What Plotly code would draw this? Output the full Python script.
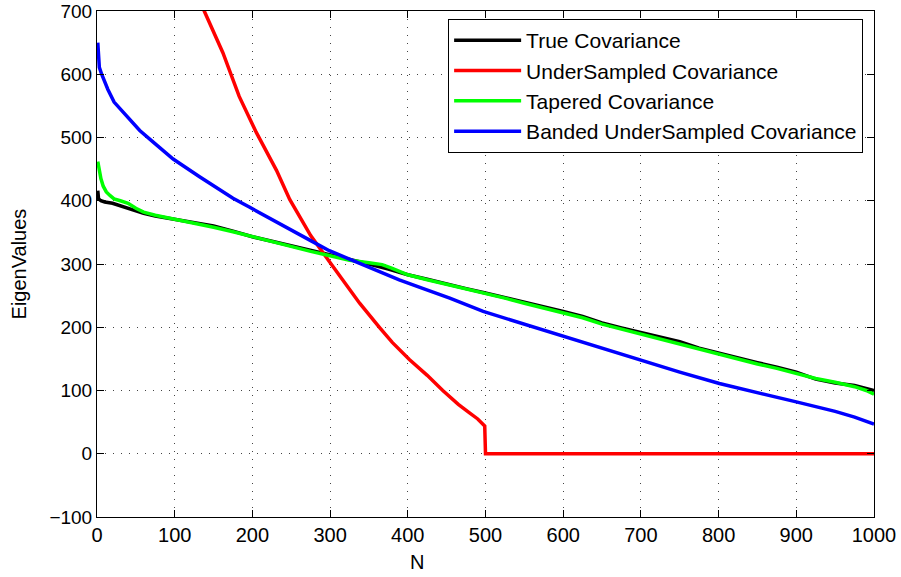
import plotly.graph_objects as go

# ---- data ----
true_x = [1, 2, 5, 10, 20, 30, 40, 50, 60, 75, 100, 125, 150, 175, 200, 225, 250, 275, 300, 325,
          350, 375, 389, 400, 425, 450, 475, 497, 525, 550, 575, 600, 625, 650, 675, 700, 725, 750,
          775, 800, 825, 850, 875, 900, 925, 950, 975, 1000]
true_y = [416, 403, 400, 398, 396, 392, 388, 384, 380, 376, 371, 366, 360, 352, 343, 336, 329, 321, 314, 307,
          300, 292, 287, 283, 276, 268, 261, 255, 247, 240, 232, 225, 217, 207, 199, 192, 184, 177,
          167, 159, 151, 144, 137, 129, 118, 112, 108, 100]

under_x = [0, 25, 50, 75, 100, 120, 138, 162, 183, 205, 231, 248, 256, 275, 299, 320, 338, 364, 380,
           402, 425, 445, 465, 479, 490, 499, 500, 1000]
under_y = [1450, 1230, 1060, 935, 830, 755, 700, 634, 565, 508, 448, 402, 385, 345, 304, 268, 238, 199, 176,
           149, 124, 100, 78, 65, 55, 44, 0, 0]

taper_x = [1, 3, 5, 8, 12, 17, 22, 30, 40, 50, 60, 75, 100, 125, 150, 175, 200, 225, 250, 275, 300,
           325, 350, 367, 380, 400, 425, 450, 475, 497, 525, 550, 575, 600, 625, 650, 675, 700, 725,
           750, 775, 800, 825, 850, 875, 900, 925, 950, 975, 990, 1000]
taper_y = [462, 445, 435, 423, 414, 408, 403, 400, 396, 388, 382, 377, 371, 365, 358, 351, 343, 336, 328, 320, 313,
           306, 302, 299, 293, 283, 275, 268, 261, 254, 246, 238, 230, 223, 215, 205, 197, 189, 182,
           174, 165, 157, 149, 142, 135, 127, 119, 113, 106, 100, 94]

band_x = [1, 2, 3, 6, 10, 14, 22, 30, 40, 55, 72, 98, 132, 150, 175, 196, 225, 250, 275, 299, 338,
          365, 389, 420, 454, 497, 550, 600, 655, 698, 750, 801, 850, 900, 950, 975, 1000]
band_y = [650, 630, 611, 600, 588, 576, 556, 545, 530, 511, 493, 466, 438, 424, 404, 390, 370, 354, 337, 321, 301,
          287, 275, 261, 246, 225, 205, 186, 164, 148, 129, 111, 96, 82, 67, 58, 47]

x_ticks = [0, 100, 200, 300, 400, 500, 600, 700, 800, 900, 1000]
y_ticks = [-100, 0, 100, 200, 300, 400, 500, 600, 700]

series = [
    ("True Covariance", true_x, true_y, "#000000"),
    ("UnderSampled Covariance", under_x, under_y, "#ff0000"),
    ("Tapered Covariance", taper_x, taper_y, "#00ff00"),
    ("Banded UnderSampled Covariance", band_x, band_y, "#0000ff"),
]

FONT = "Liberation Sans, Arial, Helvetica, sans-serif"

fig = go.Figure()
for name, xs, ys, col in series:
    fig.add_trace(go.Scatter(x=xs, y=ys, mode="lines", name=name,
                             line=dict(color=col, width=3.5)))

axis_common = dict(
    showline=True, linecolor="black", linewidth=1, mirror="ticks",
    ticks="inside", ticklen=7, tickcolor="black", tickwidth=1,
    showgrid=True, gridcolor="#444444", gridwidth=1, griddash="1px,7px",
    zeroline=False,
    tickmode="array", ticklabeloverflow="allow", automargin=False,
)

fig.update_layout(
    width=901, height=577,
    margin=dict(l=97, r=27, t=11, b=60),
    paper_bgcolor="white", plot_bgcolor="white",
    font=dict(family=FONT, size=20, color="black"),
    xaxis=dict(range=[0, 1000], tickvals=x_ticks,
               tickfont=dict(family=FONT, size=20, color="black"), **axis_common),
    yaxis=dict(range=[-100, 700], tickvals=y_ticks,
               tickfont=dict(family=FONT, size=19, color="black"), **axis_common),
    legend=dict(x=0.986, y=0.984, xanchor="right", yanchor="top",
                bgcolor="white", bordercolor="black", borderwidth=1,
                font=dict(family=FONT, size=21, color="black"),
                itemwidth=67, tracegroupgap=0),
    showlegend=True,
    annotations=[
        dict(text="N", xref="paper", yref="paper", x=0.412, y=-0.088,
             showarrow=False, xanchor="center", yanchor="middle",
             font=dict(family=FONT, size=20, color="black")),
        dict(text="EigenValues", xref="paper", yref="paper", x=-0.0998, y=0.5,
             showarrow=False, xanchor="center", yanchor="middle", textangle=-90,
             font=dict(family=FONT, size=20, color="black")),
    ],
)

fig.write_html("out.html")
